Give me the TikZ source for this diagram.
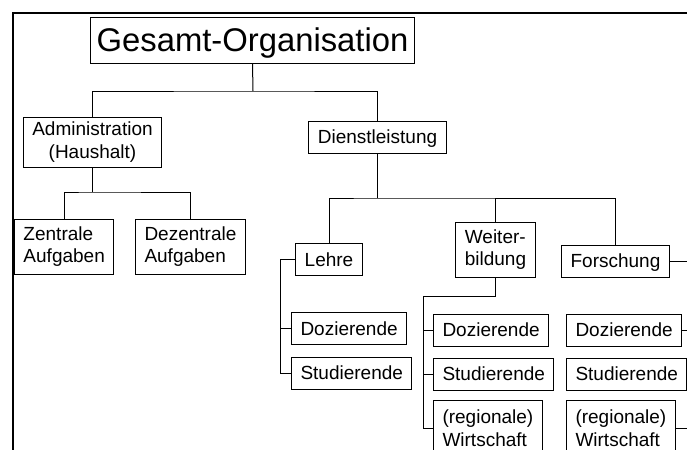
\documentclass[tikz,border=0pt]{standalone}
\usepackage{fontspec}
\setmainfont{Liberation Sans}
\usetikzlibrary{positioning}

\newcommand\boxfont{\fontsize{9.5pt}{11.25pt}\selectfont}
\newcommand\titlefont{\fontsize{16.4pt}{19pt}\selectfont}

\begin{document}
\begin{tikzpicture}[x=0.5pt,y=-0.5pt,line width=0.5pt,
  box/.style={draw,inner xsep=4.5pt,inner ysep=0pt,font=\boxfont,align=left},
  one/.style={box,minimum height=16pt,text height=6.8pt,text depth=0pt},
  two/.style={box,minimum height=27.5pt}]
 \clip (0,0) rectangle (687,450);

% frame of the slide
\draw[line width=1pt] (13,450) -- (13,13) -- (687,13);

\node[draw,inner xsep=3.25pt,minimum height=23pt,text height=11.8pt,text depth=0pt,font=\titlefont] (g) at (252.5,40) {Gesamt-Organisation};

\node[two,align=center,minimum height=25pt] (adm) at (92.5,142) {Administration\\(Haushalt)};
\node[one] (dl) at (377.5,137) {Dienstleistung};

\node[two,anchor=west] (zen) at (14,246.5) {Zentrale\\Aufgaben};
\node[two,anchor=west] (dez) at (135,246.5) {Dezentrale\\Aufgaben};

\node[one] (le) at (329,259.5) {Lehre};
\node[two] (wb) at (495.5,249.5) {Weiter-\\bildung};
\node[one] (fo) at (615.5,261) {Forschung};

\node[one,anchor=west] (le1) at (291,328.5) {Dozierende};
\node[one,anchor=west] (le2) at (291,373) {Studierende};

\node[one,anchor=west] (wb1) at (433,330) {Dozierende};
\node[one,anchor=west] (wb2) at (433,374) {Studierende};
\node[two,anchor=north west] (wb3) at (433,400) {(regionale)\\Wirtschaft};

\node[one,anchor=west] (fo1) at (566,330) {Dozierende};
\node[one,anchor=west] (fo2) at (566,374) {Studierende};
\node[two,anchor=north west] (fo3) at (566,400) {(regionale)\\Wirtschaft};

\coordinate (j1) at (253,91);
\coordinate (j2) at (92.5,192);
\coordinate (j3) at (377.5,198);
\coordinate (lb) at (280,259.5);
\coordinate (wbus) at (423,296);
\coordinate (re) at (687,0);

\draw (g.south) -- (j1);
\draw (adm.north) |- (j1) -| (dl.north);

\draw (adm.south) -- (j2);
\draw (zen.north) |- (j2) -| (dez.north);

\draw (dl.south) -- (j3);
\draw (le.north) |- (j3) -| (fo.north);
\draw (wb.north) -- (wb.north |- j3);

\draw (le.west) -- (lb) |- (le2.west);
\draw (le1.west) -- (le1.west -| lb);

\draw (wb.south) |- (wbus) |- (wb3.west);
\draw (wb1.west) -- (wb1.west -| wbus);
\draw (wb2.west) -- (wb2.west -| wbus);

\draw (fo.east) -- (fo.east -| re);
\draw (fo1.east) -- (fo1.east -| re);
\draw (fo3.east) -- (fo3.east -| re);

\end{tikzpicture}
\end{document}
